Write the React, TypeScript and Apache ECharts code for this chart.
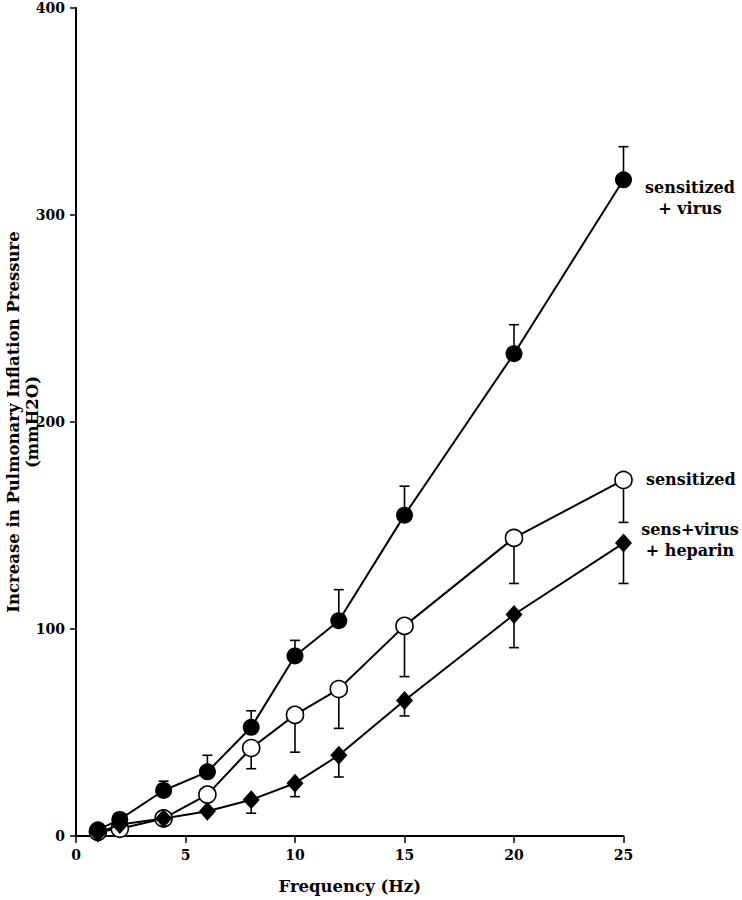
import React, { useEffect, useRef } from "react";
import * as echarts from "echarts";

const freq = [1, 2, 4, 6, 8, 10, 12, 15, 20, 25];
const sensVirus = [3, 8, 22, 31, 52.5, 87, 104, 155, 233, 317];
const sensVirusUpper = [null, null, 26.5, 39, 60.5, 94.5, 119, 169, 247, 333];
const sensitized = [2, 3.5, 8.5, 20, 42.5, 58.5, 71, 101.5, 144, 172];
const sensitizedLower = [null, null, null, null, 32.5, 40.5, 52, 77, 122, 151.5];
const heparin = [1.5, 5.5, 8.5, 12, 17.5, 25.5, 39, 65.5, 107, 141.5];
const heparinLower = [null, null, null, null, 11, 19, 28.5, 58, 91, 122];

const xTicks = [0, 5, 10, 15, 20, 25];
const yTicks = [0, 100, 200, 300, 400];

const labelSV = "sensitized\n+ virus";
const labelS = "sensitized";
const labelH = "sens+virus\n+ heparin";

const FONT = "DejaVu Serif";

function pts(vals: number[], label: string, offY: number) {
  return vals.map((v, i) => {
    const item: any = { value: [freq[i], v] };
    if (i === vals.length - 1) {
      item.label = {
        show: true,
        position: "right",
        distance: 0,
        formatter: label,
        align: "center",
        verticalAlign: "middle",
        offset: [58, offY],
        fontFamily: FONT,
        fontWeight: "bold",
        fontSize: 16,
        lineHeight: 21,
        color: "#000",
      };
    }
    return item;
  });
}

function errData(vals: number[], ends: (number | null)[]) {
  const out: number[][] = [];
  ends.forEach((e, i) => {
    if (e !== null) out.push([freq[i], vals[i], e]);
  });
  return out;
}

function errSeries(data: number[][]) {
  return {
    type: "custom",
    z: 1,
    silent: true,
    data,
    renderItem: (_params: any, api: any) => {
      const x = api.value(0);
      const y = api.value(1);
      const e = api.value(2);
      const p0 = api.coord([x, y]);
      const p1 = api.coord([x, e]);
      const style = { stroke: "#000", lineWidth: 1.6 };
      return {
        type: "group",
        children: [
          { type: "line", shape: { x1: p0[0], y1: p0[1], x2: p1[0], y2: p1[1] }, style },
          { type: "line", shape: { x1: p1[0] - 5, y1: p1[1], x2: p1[0] + 5, y2: p1[1] }, style },
        ],
      };
    },
  };
}

export default function App() {
  const ref = useRef<HTMLDivElement>(null);
  useEffect(() => {
    document.body.style.margin = "0";
    const chart = echarts.init(ref.current!, null, { renderer: "svg" });
    const axisLabel = {
      fontFamily: FONT,
      fontWeight: "bold",
      fontSize: 14,
      color: "#000",
    };
    chart.setOption({
      animation: false,
      backgroundColor: "#fff",
      grid: { left: 76, right: 118.5, top: 8, bottom: 64, containLabel: false, outerBoundsMode: "none" },
      xAxis: {
        type: "value",
        min: 0,
        max: 25,
        interval: 5,
        name: "Frequency (Hz)",
        nameLocation: "middle",
        nameGap: 42,
        nameMoveOverlap: false,
        nameTextStyle: { fontFamily: FONT, fontWeight: "bold", fontSize: 16.5, color: "#000" },
        axisLine: { show: true, onZero: false, lineStyle: { color: "#000", width: 2 } },
        axisTick: { show: true, inside: false, length: 7, lineStyle: { color: "#000", width: 1.5 } },
        axisLabel: { ...axisLabel, margin: 12, formatter: (v: number) => (xTicks.includes(v) ? String(v) : "") },
        splitLine: { show: false },
      },
      yAxis: {
        type: "value",
        min: 0,
        max: 400,
        interval: 100,
        name: "Increase in Pulmonary Inflation Pressure\n(mmH2O)",
        nameLocation: "middle",
        nameRotate: 90,
        nameGap: 34,
        nameMoveOverlap: false,
        nameTextStyle: {
          fontFamily: FONT,
          fontWeight: "bold",
          fontSize: 16.5,
          lineHeight: 19,
          color: "#000",
          align: "center",
        },
        axisLine: { show: true, onZero: false, lineStyle: { color: "#000", width: 2 } },
        axisTick: { show: true, inside: false, length: 6, lineStyle: { color: "#000", width: 1.5 } },
        axisLabel: { ...axisLabel, margin: 11, formatter: (v: number) => (yTicks.includes(v) ? String(v) : "") },
        splitLine: { show: false },
      },
      series: [
        errSeries(errData(sensVirus, sensVirusUpper)),
        errSeries(errData(sensitized, sensitizedLower)),
        errSeries(errData(heparin, heparinLower)),
        {
          type: "line",
          z: 3,
          data: pts(sensitized, labelS, 0),
          symbol: "circle",
          symbolSize: 17,
          lineStyle: { color: "#000", width: 2 },
          itemStyle: { color: "#fff", borderColor: "#000", borderWidth: 1.6 },
        },
        {
          type: "line",
          z: 4,
          data: pts(heparin, labelH, -3),
          symbol: "diamond",
          symbolSize: [17, 19],
          lineStyle: { color: "#000", width: 2 },
          itemStyle: { color: "#000", borderWidth: 0 },
        },
        {
          type: "line",
          z: 5,
          data: pts(sensVirus, labelSV, 18),
          symbol: "circle",
          symbolSize: 17,
          lineStyle: { color: "#000", width: 2 },
          itemStyle: { color: "#000", borderWidth: 0 },
        },
      ],
    });
    return () => chart.dispose();
  }, []);
  return <div ref={ref} style={{ width: 742, height: 900 }} />;
}
